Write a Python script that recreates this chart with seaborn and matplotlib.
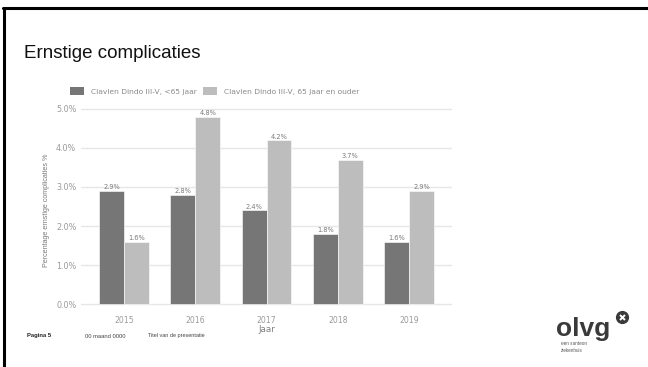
import matplotlib
matplotlib.use("Agg")
import matplotlib.pyplot as plt
import seaborn as sns
import pandas as pd
from matplotlib.patches import Patch

years = ["2015", "2016", "2017", "2018", "2019"]
series_names = ["Clavien Dindo III-V, <65 jaar", "Clavien Dindo III-V, 65 jaar en ouder"]
under65 = [2.9, 2.8, 2.4, 1.8, 1.6]
over65 = [1.6, 4.8, 4.2, 3.7, 2.9]
y_ticks = [0, 1, 2, 3, 4, 5]
y_tick_labels = ["0.0%", "1.0%", "2.0%", "3.0%", "4.0%", "5.0%"]

df = pd.DataFrame({
    "Jaar": years * 2,
    "Groep": [series_names[0]] * len(years) + [series_names[1]] * len(years),
    "Pct": under65 + over65,
})

sns.set_theme(style="white")
plt.rcParams["font.family"] = ["Liberation Sans", "DejaVu Sans"]
CH = ["DejaVu Sans"]

W, H = 648, 367
fig = plt.figure(figsize=(W / 100, H / 100), dpi=100)

def fx(px):
    return px / W

def fy(py):
    return 1 - py / H

ax = fig.add_axes([fx(81.2), fy(313.4), fx(451.8) - fx(81.2), fy(107.4) - fy(313.4)])
palette = {series_names[0]: "#767676", series_names[1]: "#bdbdbd"}
sns.barplot(data=df, x="Jaar", y="Pct", hue="Groep", order=years, hue_order=series_names,
            palette=palette, width=0.7, saturation=1, ax=ax, legend=False,
            edgecolor="white", linewidth=0.4)

for cont in ax.containers:
    ax.bar_label(cont, labels=[f"{v:.1f}%" for v in cont.datavalues], padding=0.3,
                 fontsize=4.8, color="#7a7a7a", family=CH)

ax.set_xlim(-0.6, 4.6)
ax.set_ylim(-0.24, 5.04)
ax.set_yticks(y_ticks)
ax.set_yticklabels(y_tick_labels, family=CH)
ax.set_xticks(range(len(years)))
ax.set_xticklabels(years, family=CH)
ax.grid(axis="y", color="#e6e6e6", linewidth=1.0)
ax.grid(axis="x", visible=False)
ax.set_axisbelow(True)
for s in ax.spines.values():
    s.set_visible(False)
ax.tick_params(axis="y", length=2, width=0.8, color="#999999", labelsize=5.8, labelcolor="#9a9a9a", pad=1.5)
ax.tick_params(axis="x", length=1.5, width=0.8, color="#999999", labelsize=5.6, labelcolor="#9a9a9a", pad=2.0, direction="in")
ax.set_xlabel("Jaar", fontsize=6.3, color="#808080", labelpad=-0.2, family=CH)
ax.set_ylabel("Percentage ernstige complicaties %", fontsize=5.1, color="#7a7a7a", labelpad=4)

# legend
handles = [Patch(facecolor=palette[n], edgecolor="none") for n in series_names]
fig.legend(handles, series_names, loc="center left", bbox_to_anchor=(fx(70), fy(91)), ncol=2,
           frameon=False, prop={"family": CH, "size": 5.4}, labelcolor="#8a8a8a",
           handlelength=1.9, handleheight=1.2, handletextpad=0.9, columnspacing=0.8,
           borderaxespad=0, borderpad=0)

# slide elements
fig.add_artist(plt.Line2D([fx(3), 1], [fy(8), fy(8)], color="black", linewidth=2.2))
fig.add_artist(plt.Line2D([fx(4), fx(4)], [fy(8), 0], color="black", linewidth=2.2))
fig.text(fx(24), fy(53), "Ernstige complicaties", fontsize=13.5, color="#111111", va="center", ha="left")

fig.text(fx(27), fy(336), "Pagina 5", fontsize=4.2, fontweight="bold", color="#222222", va="center")
fig.text(fx(85), fy(336), "00 maand 0000", fontsize=4.2, color="#444444", va="center")
fig.text(fx(148), fy(336), "Titel van de presentatie", fontsize=4.0, color="#444444", va="center")

fig.text(fx(556), fy(336), "olvg", fontsize=19, fontweight="bold", color="#3a3a3a",
         va="baseline", ha="left")
fig.add_artist(plt.Line2D([fx(622)], [fy(317)], marker="o", markersize=8.5, color="#3a3a3a",
                          linestyle="none"))
fig.add_artist(plt.Line2D([fx(622)], [fy(317)], marker="x", markersize=3.6, markeredgewidth=1.4,
                          color="white", linestyle="none"))
fig.text(fx(561), fy(343.5), "een santeon", fontsize=3.3, color="#555555", va="center")
fig.text(fx(561), fy(350.5), "ziekenhuis", fontsize=3.3, color="#555555", va="center")

fig.savefig("out.png", dpi=100)
